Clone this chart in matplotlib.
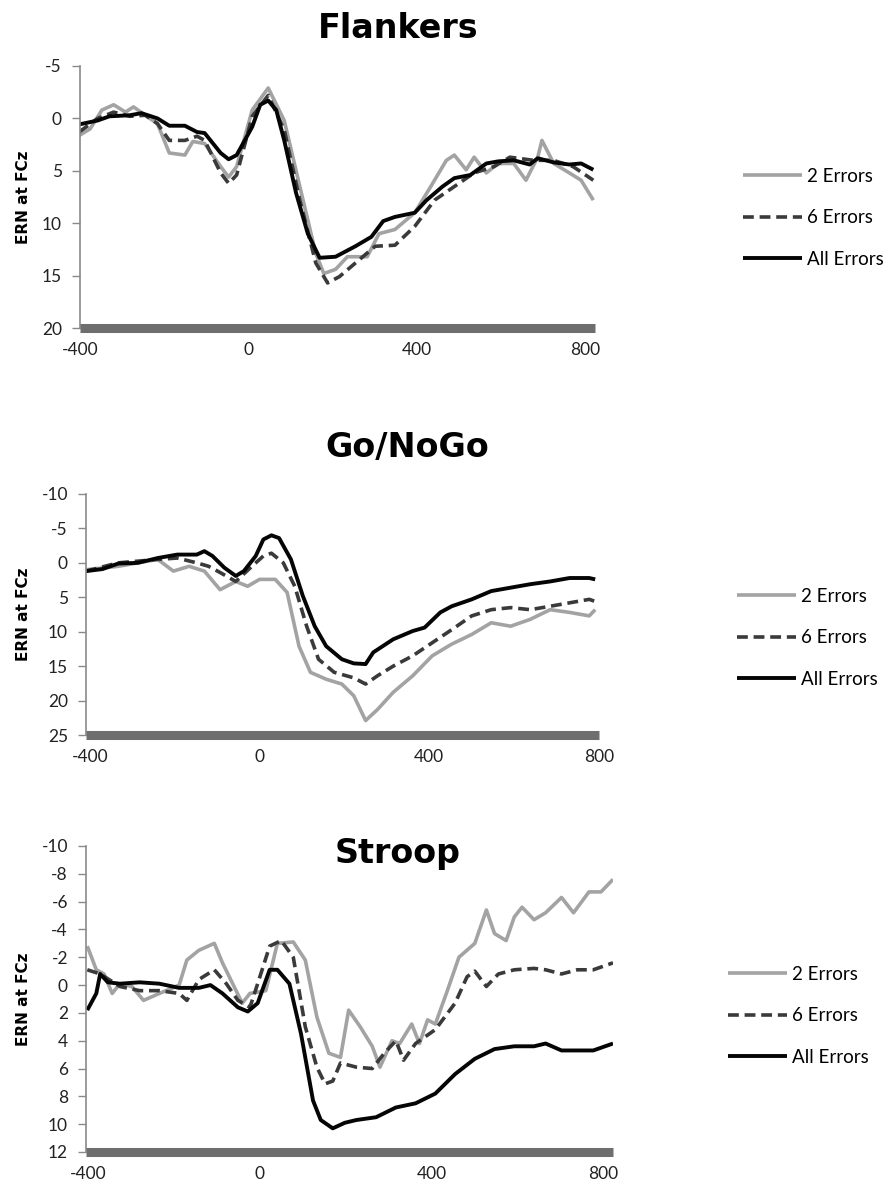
import matplotlib
matplotlib.use('Agg')
import matplotlib.pyplot as plt

plt.rcParams['axes.unicode_minus'] = False

# ---- Flankers ----
fl_t2 = [-405, -376, -348, -320, -292, -273, -245, -216, -188, -151, -132, -104, -66, -47, -28, 9, 47, 85, 122,
         160, 179, 207, 235, 282, 310, 348, 395, 433, 470, 489, 517, 536, 565, 593, 630, 659, 687, 697, 725,
         762, 790, 819]
fl_2 = [1.7, 1.0, -0.8, -1.3, -0.6, -1.1, -0.3, 0.5, 3.3, 3.5, 2.2, 2.4, 4.6, 5.6, 4.6, -0.8, -2.9, 0.2, 6.5,
        12.9, 14.8, 14.4, 13.2, 13.2, 11.0, 10.6, 9.0, 6.5, 4.0, 3.5, 4.9, 3.7, 5.2, 4.3, 4.3, 5.9, 3.7, 2.1, 4.3,
        5.2, 5.9, 7.8]
fl_t6 = [-402, -358, -320, -282, -245, -216, -188, -151, -122, -104, -66, -47, -28, 9, 47, 85, 122, 160, 188,
         216, 254, 301, 348, 395, 442, 489, 536, 583, 621, 677, 724, 771, 819]
fl_6 = [1.3, 0.0, -0.6, -0.2, -0.3, 0.5, 2.1, 2.1, 1.7, 2.1, 5.2, 6.2, 5.4, -0.2, -2.2, 1.1, 7.8, 13.8, 15.7,
        15.1, 13.8, 12.2, 12.1, 10.3, 7.8, 6.5, 5.2, 4.6, 3.7, 4.0, 4.0, 4.6, 5.9]
fl_ta = [-405, -358, -330, -282, -254, -216, -188, -151, -122, -104, -66, -47, -28, 9, 28, 47, 66, 85, 113,
         141, 169, 207, 254, 292, 320, 348, 395, 423, 461, 489, 527, 565, 593, 630, 668, 687, 725, 762, 790, 819]
fl_a = [0.6, 0.2, -0.2, -0.3, -0.5, 0.0, 0.7, 0.7, 1.3, 1.4, 3.3, 3.9, 3.5, 0.8, -1.3, -1.7, -0.8, 2.1, 7.1,
        11.0, 13.3, 13.2, 12.2, 11.3, 9.8, 9.4, 9.0, 7.8, 6.5, 5.7, 5.4, 4.3, 4.1, 4.0, 4.4, 3.8, 4.2, 4.4, 4.3, 4.9]

# ---- Go/NoGo ----
gn_t2 = [-409, -333, -240, -203, -166, -130, -93, -56, -28, 0, 37, 65, 93, 120, 157, 194, 222, 250, 278, 315,
         361, 407, 453, 500, 546, 592, 638, 685, 731, 777, 791]
gn_2 = [1.0, 0.5, -0.5, 1.2, 0.5, 1.2, 3.9, 2.7, 3.4, 2.4, 2.4, 4.3, 12.1, 15.9, 16.9, 17.6, 19.3, 22.9, 21.3,
        18.8, 16.4, 13.5, 11.8, 10.4, 8.7, 9.2, 8.2, 6.8, 7.2, 7.7, 6.8]
gn_t6 = [-409, -333, -240, -194, -148, -120, -93, -56, -18, 9, 28, 56, 83, 111, 139, 176, 222, 250, 278, 315,
         361, 407, 453, 500, 546, 592, 638, 685, 731, 777, 791]
gn_6 = [1.2, 0.0, -0.5, -0.7, 0.0, 0.5, 1.4, 2.7, 0.5, -1.0, -1.4, 0.0, 3.4, 9.2, 14.0, 15.9, 16.7, 17.6, 16.4,
        15.0, 13.5, 11.6, 9.7, 7.7, 6.8, 6.5, 6.8, 6.3, 5.8, 5.3, 5.6]
gn_ta = [-409, -370, -333, -287, -240, -194, -148, -130, -111, -83, -56, -37, -9, 9, 28, 46, 74, 102, 130, 157,
         194, 222, 250, 268, 315, 361, 389, 426, 453, 500, 546, 592, 638, 685, 731, 777, 791]
gn_a = [1.2, 0.9, 0.1, 0.0, -0.7, -1.2, -1.2, -1.7, -1.0, 0.7, 1.9, 1.2, -1.0, -3.4, -4.0, -3.6, -0.5, 4.8, 9.2,
        12.1, 14.0, 14.6, 14.7, 13.0, 11.1, 9.9, 9.4, 7.2, 6.3, 5.3, 4.1, 3.6, 3.1, 2.7, 2.2, 2.2, 2.4]

# ---- Stroop ----
st_t2 = [-402, -381, -363, -344, -326, -298, -271, -234, -188, -170, -142, -106, -87, -60, -41, -23, 14, 41, 78,
         106, 133, 161, 188, 207, 234, 262, 280, 308, 326, 354, 372, 391, 409, 437, 464, 501, 528, 547, 574, 593,
         611, 639, 666, 703, 731, 767, 795, 823]
st_2 = [-2.8, -1.1, -0.8, 0.6, -0.1, 0.1, 1.1, 0.6, 0.0, -1.8, -2.5, -3.0, -1.6, 0.1, 1.3, 0.6, 0.4, -3.0, -3.1,
        -1.8, 2.3, 4.9, 5.2, 1.8, 3.0, 4.4, 5.9, 4.0, 4.2, 2.8, 4.2, 2.5, 2.8, 0.4, -2.0, -3.0, -5.4, -3.7, -3.2,
        -4.9, -5.6, -4.7, -5.2, -6.3, -5.2, -6.7, -6.7, -7.6]
st_t6 = [-402, -372, -326, -280, -234, -188, -170, -142, -106, -78, -51, -23, -5, 23, 50, 78, 106, 133, 152, 170,
         188, 225, 262, 290, 317, 335, 363, 409, 455, 483, 501, 528, 556, 593, 639, 666, 703, 740, 777, 823]
st_6 = [-1.1, -0.8, 0.1, 0.4, 0.4, 0.6, 1.1, -0.4, -1.1, -0.1, 1.1, 1.6, -0.1, -2.8, -3.2, -2.0, 3.0, 5.9, 7.1,
        6.9, 5.6, 5.9, 6.0, 4.9, 4.0, 5.4, 4.2, 3.2, 1.3, -0.6, -1.0, 0.1, -0.8, -1.1, -1.2, -1.1, -0.8, -1.1, -1.1,
        -1.6]
st_ta = [-402, -381, -372, -354, -326, -280, -234, -188, -142, -115, -87, -51, -28, -5, 23, 41, 69, 96, 124, 142,
         170, 198, 225, 271, 317, 363, 409, 455, 501, 547, 593, 639, 666, 703, 731, 777, 823]
st_a = [1.8, 0.6, -0.8, -0.2, -0.1, -0.2, -0.1, 0.2, 0.2, 0.0, 0.6, 1.6, 1.9, 1.3, -1.1, -1.1, -0.1, 3.5, 8.3,
        9.7, 10.3, 9.9, 9.7, 9.5, 8.8, 8.5, 7.8, 6.4, 5.3, 4.6, 4.4, 4.4, 4.2, 4.7, 4.7, 4.7, 4.2]

titles = ['Flankers', 'Go/NoGo', 'Stroop']
labels = ['2 Errors', '6 Errors', 'All Errors']
xticks = [-400, 0, 400, 800]
yticks = [[-5, 0, 5, 10, 15, 20],
          [-10, -5, 0, 5, 10, 15, 20, 25],
          [-10, -8, -6, -4, -2, 0, 2, 4, 6, 8, 10, 12]]

data = [
    [(fl_t2, fl_2), (fl_t6, fl_6), (fl_ta, fl_a)],
    [(gn_t2, gn_2), (gn_t6, gn_6), (gn_ta, gn_a)],
    [(st_t2, st_2), (st_t6, st_6), (st_ta, st_a)],
]

W, H = 891, 1190
fig = plt.figure(figsize=(W / 100, H / 100), dpi=100)

# axes boxes in pixels: left, top, right, bottom
boxes = [(80, 66, 595, 328), (86, 494, 599, 735), (86, 846, 613, 1152)]
xlims = [(-400, 823), (-409, 791), (-405, 823)]
legpos = [(743, 168), (737, 588), (728, 966)]
title_pos = [(398, 28), (407, 447), (398, 853)]

styles = [dict(color='#a3a3a3', lw=2.6, ls='-'),
          dict(color='#3a3a3a', lw=2.6, ls=(0, (3, 1.6))),
          dict(color='#050505', lw=2.8, ls='-')]

tickfont = 'Lato'

for i in range(3):
    l, t, r, b = boxes[i]
    ax = fig.add_axes([l / W, 1 - b / H, (r - l) / W, (b - t) / H])
    for (tt, vv), st in zip(data[i], styles):
        ax.plot(tt, vv, solid_capstyle='butt', **st)
    ax.set_xlim(*xlims[i])
    ax.set_ylim(yticks[i][-1], yticks[i][0])
    ax.set_yticks(yticks[i])
    ax.set_xticks(xticks)
    for sp in ['top', 'right']:
        ax.spines[sp].set_visible(False)
    ax.spines['left'].set_color('#8a8a8a')
    ax.spines['left'].set_linewidth(1.2)
    ax.spines['bottom'].set_color('#6e6e6e')
    ax.spines['bottom'].set_linewidth(6.5)
    ax.spines['bottom'].set_capstyle('butt')
    ax.tick_params(axis='y', direction='out', length=6, width=1.0, color='#8a8a8a', pad=7,
                   labelsize=12.5, labelcolor='#222222')
    ax.tick_params(axis='x', length=0, pad=10, labelsize=12.5, labelcolor='#222222')
    for lab in ax.get_xticklabels() + ax.get_yticklabels():
        lab.set_family(tickfont)
    ax.set_ylabel('ERN at FCz', fontsize=11, fontweight='bold')
    ax.yaxis.set_label_coords(-(l - 31) / (r - l), 0.5)
    tx, ty = title_pos[i]
    fig.text(tx / W, 1 - ty / H, titles[i], ha='center', va='center',
             fontsize=24, fontweight='bold')
    lx, ly = legpos[i]
    ax.legend(labels, loc='upper left', bbox_to_anchor=(lx / W, 1 - ly / H),
              bbox_transform=fig.transFigure, frameon=False, borderpad=0,
              borderaxespad=0, handlelength=3.15, handletextpad=0.27,
              labelspacing=1.3, prop={'family': tickfont, 'size': 13.5})

plt.savefig('out.png', dpi=100)
